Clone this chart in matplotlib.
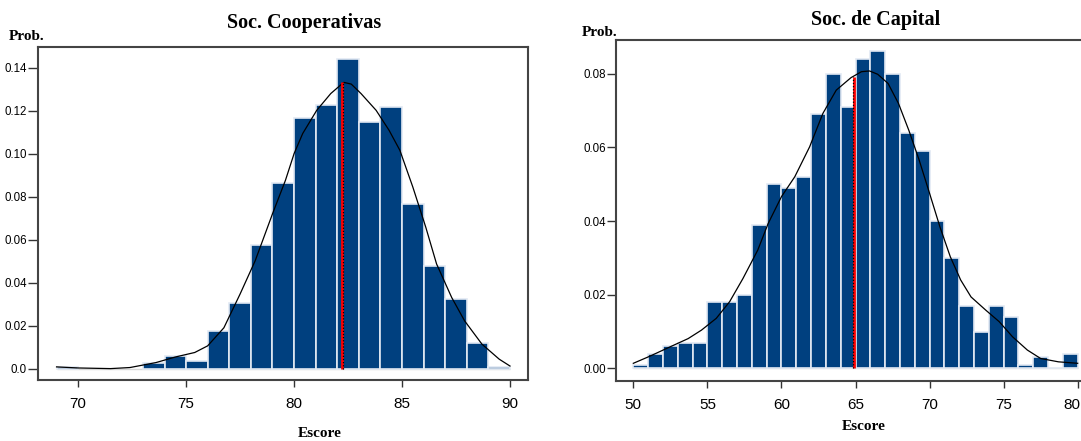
import numpy as np
import matplotlib
matplotlib.use("Agg")
import matplotlib.pyplot as plt
import matplotlib.transforms as mtransforms

# --- Soc. Cooperativas ---
coop_edges = [69, 73, 74, 75, 76, 77, 78, 79, 80, 81, 82, 83, 84, 85, 86, 87, 88, 89]
coop_prob = [0.0008, 0.0028, 0.0058, 0.0037, 0.0176, 0.0306, 0.0577, 0.0866, 0.1168,
             0.1227, 0.1439, 0.1146, 0.1216, 0.0768, 0.0479, 0.0325, 0.0117, 0.0009]
coop_curve_x = [69.0, 70.0, 71.5, 72.4, 73.6, 74.5, 75.4, 76.0, 76.75, 77.5, 78.2, 79.0,
                79.6, 80.0, 80.4, 81.05, 81.7, 82.3, 82.65, 83.1, 83.8, 84.4, 84.9, 85.5,
                86.1, 86.6, 87.3, 87.9, 88.7, 89.5, 90.0]
coop_curve_y = [0.0008, 0.0003, 0.0, 0.0005, 0.0028, 0.0054, 0.0075, 0.0106, 0.019, 0.0347,
                0.0502, 0.072, 0.0876, 0.1, 0.1094, 0.1202, 0.128, 0.1332, 0.1324, 0.128,
                0.1202, 0.1109, 0.1016, 0.0845, 0.0658, 0.0487, 0.0331, 0.0222, 0.0114,
                0.0044, 0.0012]
coop_mean, coop_median, coop_peak = 82.22, 82.28, 0.1332
coop_yticks = [0.0, 0.02, 0.04, 0.06, 0.08, 0.10, 0.12, 0.14]
coop_ylabels = ["0.0", "0.02", "0.04", "0.06", "0.08", "0.10", "0.12", "0.14"]
coop_xticks = [70, 75, 80, 85, 90]

# --- Soc. de Capital ---
cap_edges = list(range(50, 80))
cap_prob = [0.001, 0.004, 0.006, 0.007, 0.007, 0.018, 0.018, 0.020, 0.039, 0.050,
            0.049, 0.052, 0.069, 0.080, 0.071, 0.084, 0.086, 0.080, 0.064, 0.059,
            0.040, 0.030, 0.017, 0.010, 0.017, 0.014, 0.001, 0.003, 0.0, 0.004]
cap_curve_x = [50.0, 51.1, 52.5, 53.7, 54.6, 55.6, 56.5, 57.4, 58.4, 59.1, 60.0, 60.9,
               61.9, 62.8, 63.7, 64.7, 65.4, 65.95, 66.5, 67.2, 67.9, 68.6, 69.3, 70.0,
               70.7, 71.4, 72.1, 72.8, 73.8, 74.7, 75.6, 76.6, 77.5, 78.7, 80.0]
cap_curve_y = [0.0014, 0.0033, 0.0059, 0.0081, 0.0104, 0.0136, 0.0181, 0.0244, 0.0321,
               0.0393, 0.0466, 0.052, 0.0601, 0.0692, 0.0755, 0.0789, 0.0805, 0.0807,
               0.0798, 0.0773, 0.0719, 0.0646, 0.0565, 0.0475, 0.0384, 0.0303, 0.024,
               0.0194, 0.0158, 0.0127, 0.0086, 0.005, 0.0027, 0.0018, 0.0014]
cap_mean, cap_median, cap_peak = 64.93, 64.86, 0.0791
cap_yticks = [0.0, 0.02, 0.04, 0.06, 0.08]
cap_ylabels = ["0.00", "0.02", "0.04", "0.06", "0.08"]
cap_xticks = [50, 55, 60, 65, 70, 75, 80]

BAR = "#00407f"
EDGE = "#e2e9f3"
SANS = "Liberation Sans"
SERIF = "Liberation Serif"

W, H = 1081, 441
fig = plt.figure(figsize=(W / 100, H / 100), dpi=100)


def draw(ax, edges, prob, cx, cy, mean, median, peak, xlim, ylim,
         yticks, ylabels, xticks, ylen):
    ax.bar(edges, prob, width=1, align="edge", color=BAR, edgecolor=EDGE,
           linewidth=1.2, zorder=2)
    ax.hlines(0, edges[0], edges[-1] + 1, color="#d8d8d8", lw=1, zorder=1)
    ax.plot(cx, cy, color="black", lw=0.9, zorder=3)
    ax.vlines(mean, 0, peak, color="red", lw=2, zorder=4)
    ax.vlines(median, 0, peak, color="black", lw=0.9, linestyles=(0, (1, 1.5)), zorder=5)
    ax.set_xlim(*xlim)
    ax.set_ylim(*ylim)
    ax.set_yticks(yticks, ylabels, fontsize=8.3, family=SANS)
    ax.set_xticks(xticks, [str(t) for t in xticks], fontsize=11, family=SANS)
    ax.tick_params(axis="y", length=ylen, width=1, pad=0.5, color="#333333")
    ax.tick_params(axis="x", length=5, width=1, pad=7, color="#333333")
    for s in ax.spines.values():
        s.set_color("#444444")
        s.set_linewidth(1.5)


ax1 = fig.add_axes([38.2 / W, 1 - 380 / H, (527.9 - 38.2) / W, (380 - 46.7) / H])
draw(ax1, coop_edges, coop_prob, coop_curve_x, coop_curve_y, coop_mean, coop_median,
     coop_peak, (68.15, 90.83), (-0.0053, 0.1498), coop_yticks, coop_ylabels,
     coop_xticks, 7.5)

ax2 = fig.add_axes([616 / W, 1 - 381 / H, (1092.5 - 616) / W, (381 - 40) / H])
draw(ax2, cap_edges, cap_prob, cap_curve_x, cap_curve_y, cap_mean, cap_median,
     cap_peak, (48.83, 81.0), (-0.0034, 0.0891), cap_yticks, cap_ylabels,
     cap_xticks, 6.5)

# last tick label sits at the figure edge: nudge it in so it stays readable
last = ax2.get_xticklabels()[-1]
last.set_transform(last.get_transform() +
                   mtransforms.ScaledTranslation(-6 / 100, 0, fig.dpi_scale_trans))

fig.text(304 / W, 1 - 23 / H, "Soc. Cooperativas", ha="center", va="center",
         family=SERIF, fontweight="bold", fontsize=14.5)
fig.text(876 / W, 1 - 20 / H, "Soc. de Capital", ha="center", va="center",
         family=SERIF, fontweight="bold", fontsize=14.5)
fig.text(8.6 / W, 1 - 36 / H, "Prob.", ha="left", va="center",
         family=SERIF, fontweight="bold", fontsize=11)
fig.text(581.7 / W, 1 - 32 / H, "Prob.", ha="left", va="center",
         family=SERIF, fontweight="bold", fontsize=11)
fig.text(319.6 / W, 1 / H, "Escore", ha="center", va="bottom",
         family=SERIF, fontweight="bold", fontsize=11)
fig.text(864 / W, 1 - 426 / H, "Escore", ha="center", va="center",
         family=SERIF, fontweight="bold", fontsize=11)

fig.savefig("out.png", dpi=100)
